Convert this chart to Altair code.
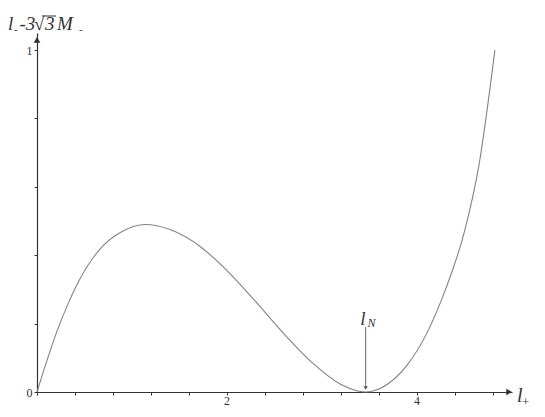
import altair as alt
import pandas as pd

# curve values
xs = [0, 0.1, 0.2, 0.33, 0.45, 0.67, 0.9, 1.14, 1.4, 1.72, 2.0, 2.3, 2.6, 2.9, 3.2, 3.46,
      3.7, 3.9, 4.1, 4.3, 4.5, 4.65, 4.82]
ys = [0, 0.088, 0.17, 0.26, 0.33, 0.42, 0.47, 0.49, 0.475, 0.425, 0.355, 0.265, 0.17, 0.085,
      0.022, 0, 0.025, 0.08, 0.17, 0.3, 0.47, 0.66, 1.0]

x_ticks = [0, 0.4, 0.8, 1.2, 1.6, 2, 2.4, 2.8, 3.2, 3.6, 4, 4.4, 4.8]
x_labels = [2, 4]
y_ticks = [0, 0.2, 0.4, 0.6, 0.8, 1]
l_N = 3.46

W, H = 475, 359
XDOM = [0, 5.0]
YDOM = [0, 1.05]
SERIF = "Liberation Serif"
AXC = "#333333"
TXC = "#333333"

df = pd.DataFrame({"x": xs, "y": ys})

xscale = alt.Scale(domain=XDOM, nice=False, zero=False)
yscale = alt.Scale(domain=YDOM, nice=False, zero=False)

xaxis = alt.Axis(values=x_ticks, labels=False,
                 grid=False, domainColor=AXC, tickColor=AXC, tickSize=3, domainWidth=1.2, title=None)
yaxis = alt.Axis(values=y_ticks, format="~g", labelOverlap=False, labelFlush=False,
                 labelExpr="abs(datum.value) < 0.01 || abs(datum.value - 1) < 0.01 ? datum.label : ''",
                 grid=False, domainColor=AXC, tickColor=AXC, tickSize=3, domainWidth=1.2,
                 labelFont=SERIF, labelFontSize=12, labelColor=TXC, labelPadding=2, title=None)


def X(f):
    return alt.X(f, scale=xscale, axis=xaxis)


def Y(f):
    return alt.Y(f, scale=yscale, axis=yaxis)


curve = alt.Chart(df).mark_line(color="#8a7f80", strokeWidth=1.1, interpolate="monotone").encode(
    x=X("x:Q"), y=Y("y:Q"))

xl_df = pd.DataFrame({"x": x_labels, "t": [str(v) for v in x_labels]})
xlabels = alt.Chart(xl_df).mark_text(font=SERIF, fontSize=12, color=TXC, align="center",
                                     baseline="alphabetic").encode(
    x=X("x:Q"), y=alt.value(H + 13), text="t:N")

arrows_df = pd.DataFrame({"x": [4.97, 0], "y": [0, 1.03], "shape": ["triangle-right", "triangle-up"]})
arrows = alt.Chart(arrows_df).mark_point(filled=True, color=AXC, size=45, opacity=1).encode(
    x=X("x:Q"), y=Y("y:Q"), shape=alt.Shape("shape:N", scale=None, legend=None))

ln_df = pd.DataFrame({"x": [l_N], "y0": [0.19], "y1": [0.01]})
ln_rule = alt.Chart(ln_df).mark_rule(color="#666666", strokeWidth=1).encode(
    x=X("x:Q"), y=Y("y0:Q"), y2="y1:Q")
ln_head = alt.Chart(ln_df).mark_point(filled=True, color="#555555", size=18, shape="triangle-down",
                                      opacity=1).encode(x=X("x:Q"), y=alt.value(H - 4))

ann = pd.DataFrame({
    "t": ["l", "N"],
    "x": [l_N - 0.03, l_N + 0.02],
    "y": [0.195, 0.19],
})
ln_l = alt.Chart(ann.iloc[[0]]).mark_text(font=SERIF, fontStyle="italic", fontSize=19, color=TXC,
                                          align="center", baseline="alphabetic").encode(
    x=X("x:Q"), y=Y("y:Q"), text="t:N")
ln_n = alt.Chart(ann.iloc[[1]]).mark_text(font=SERIF, fontStyle="italic", fontSize=12, color=TXC,
                                          align="left", baseline="alphabetic").encode(
    x=X("x:Q"), y=Y("y:Q"), text="t:N")


def txt(t, px, py, fs, italic=True, align="left"):
    return alt.Chart(pd.DataFrame({"t": [t]})).mark_text(
        font=SERIF, fontStyle="italic" if italic else "normal", fontSize=fs, color=TXC,
        align=align, baseline="alphabetic").encode(
        x=alt.value(px), y=alt.value(py), text="t:N")


OX, OY = 37, 33  # page position of plot origin
title_parts = [
    txt("l", 8 - OX, 30 - OY, 19),
    txt("-", 14 - OX, 33 - OY, 11),
    txt("-3", 19.5 - OX, 30 - OY, 19),
    txt("√", 34 - OX, 30 - OY, 19, italic=False),
    txt("3", 45 - OX, 30 - OY, 19),
    txt("M", 57 - OX, 30 - OY, 19),
    txt("-", 79 - OX, 33 - OY, 11),
    txt("l", 517 - OX, 402 - OY, 20),
    txt("+", 522 - OX, 406 - OY, 13, italic=False),
]
overline = alt.Chart(pd.DataFrame({"a": [0]})).mark_rule(color=TXC, strokeWidth=1).encode(
    x=alt.value(42 - OX), x2=alt.value(56 - OX), y=alt.value(16 - OY))

chart = alt.layer(curve, xlabels, arrows, ln_rule, ln_head, ln_l, ln_n, overline,
                  *title_parts).properties(
    width=W, height=H,
    background="white",
    autosize=alt.AutoSizeParams(type="none"),
    padding={"left": 29, "top": 25, "right": 25, "bottom": 17},
).configure_view(strokeWidth=0, stroke="transparent")

chart.save("out.html", embed_options={"renderer": "svg", "actions": False})
